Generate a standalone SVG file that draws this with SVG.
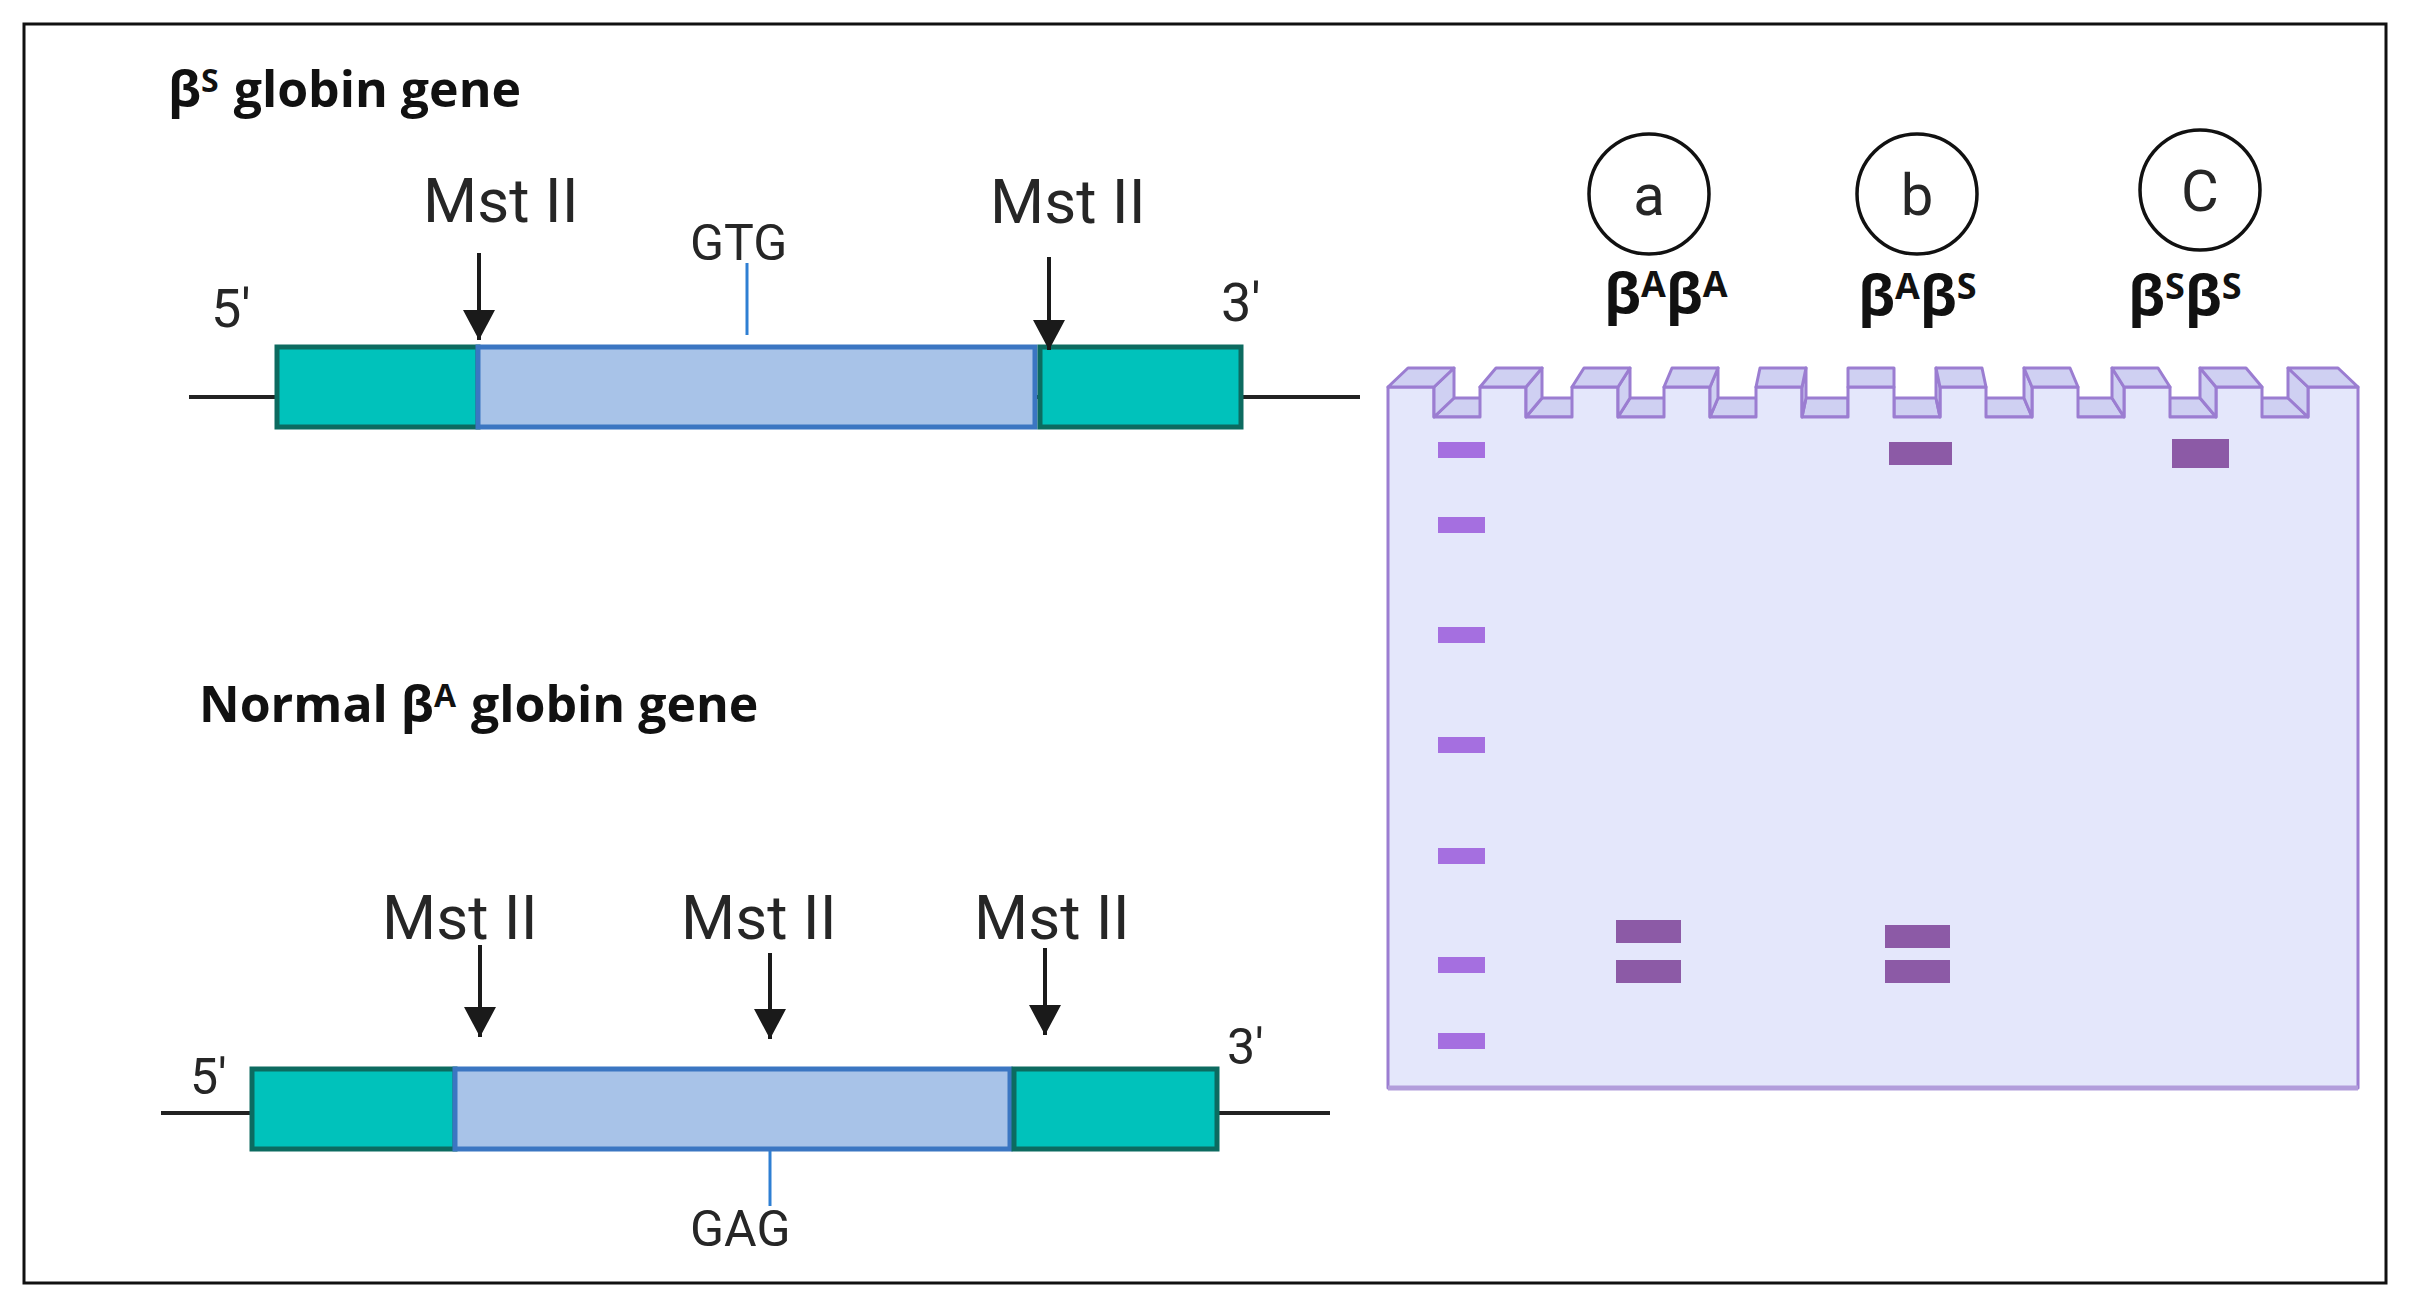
<svg xmlns="http://www.w3.org/2000/svg" width="2409" height="1305" viewBox="0 0 2409 1305">
<defs>
<style>
.title{font-family:"Open Sans","Liberation Sans",sans-serif;font-weight:700;fill:#111;}
.lab{font-family:Roboto,"Liberation Sans",sans-serif;fill:#262626;}
.teal{fill:#00c2bb;stroke:#0c6b60;stroke-width:5;}
.blue{fill:#a8c3e8;stroke:#3b76c2;stroke-width:5;}
.strand{stroke:#222;stroke-width:4;}
.tick{stroke:#2f7fd3;stroke-width:3;}
.arrow{stroke:#1a1a1a;stroke-width:4;fill:none;marker-end:url(#ah);}
.gel{fill:#e4e7fb;stroke:#9b7dd1;stroke-width:3;stroke-linejoin:round;}
.face{fill:#cfd0f2;stroke:#9b7dd1;stroke-width:3;stroke-linejoin:round;}
.ladder{fill:#a56fe0;}
.band{fill:#8c5aa6;}
.ring{fill:none;stroke:#111;stroke-width:3.5;}
</style>
<marker id="ah" markerUnits="userSpaceOnUse" markerWidth="30" markerHeight="32" refX="30" refY="16" orient="auto">
<path d="M0,0 L30,16 L0,32 Z" fill="#1a1a1a"/>
</marker>
</defs>
<rect x="0" y="0" width="2409" height="1305" fill="#fff"/>
<rect id="frame" x="24" y="24" width="2362" height="1259" fill="none" stroke="#111" stroke-width="3"/>

<g id="title-sickle">
<text class="title" x="168" y="107" font-size="50">β<tspan font-size="32" dy="-15">S</tspan><tspan dy="15" dx="2"> globin gene</tspan></text>
</g>

<g id="title-normal">
<text class="title" x="199" y="722" font-size="50">Normal β<tspan font-size="32" dy="-15">A</tspan><tspan dy="15" dx="2"> globin gene</tspan></text>
</g>

<g id="gene-sickle">
<line class="strand" x1="189" y1="397" x2="1360" y2="397"/>
<rect class="teal" x="277" y="347" width="201" height="80"/>
<rect class="blue" x="478" y="347" width="557" height="80"/>
<rect class="teal" x="1040" y="347" width="201" height="80"/>
<line class="tick" x1="747" y1="263" x2="747" y2="335"/>
<text class="lab" x="690" y="260" font-size="50">GTG</text>
<text class="lab" x="211" y="327" font-size="54">5'</text>
<text class="lab" x="1221" y="321" font-size="54">3'</text>
<text class="lab" x="423" y="222" font-size="62">Mst II</text>
<text class="lab" x="990" y="223" font-size="62">Mst II</text>
</g>

<g id="gene-normal">
<line class="strand" x1="161" y1="1113" x2="1330" y2="1113"/>
<rect class="teal" x="252" y="1069" width="203" height="80"/>
<rect class="blue" x="455" y="1069" width="555" height="80"/>
<rect class="teal" x="1014" y="1069" width="203" height="80"/>
<line class="tick" x1="770" y1="1151" x2="770" y2="1206"/>
<text class="lab" x="690" y="1246" font-size="50">GAG</text>
<text class="lab" x="190" y="1094" font-size="50">5'</text>
<text class="lab" x="1227" y="1064" font-size="50">3'</text>
<text class="lab" x="382" y="939" font-size="62">Mst II</text>
<text class="lab" x="681" y="939" font-size="62">Mst II</text>
<text class="lab" x="974" y="939" font-size="62">Mst II</text>
</g>

<g id="connectors">
<line class="arrow" x1="479" y1="253" x2="479" y2="340"/>
<line class="arrow" x1="1049" y1="257" x2="1049" y2="350"/>
<line class="arrow" x1="480" y1="945" x2="480" y2="1037"/>
<line class="arrow" x1="770" y1="953" x2="770" y2="1039"/>
<line class="arrow" x1="1045" y1="948" x2="1045" y2="1035"/>
</g>

<g id="gel">
<g id="wells">
<polygon class="face" points="1434,417 1480,417 1496,398 1454,398"/>
<polygon class="face" points="1526,417 1572,417 1584,398 1542,398"/>
<polygon class="face" points="1618,417 1664,417 1672,398 1630,398"/>
<polygon class="face" points="1710,417 1756,417 1760,398 1718,398"/>
<polygon class="face" points="1802,417 1848,417 1848,398 1806,398"/>
<polygon class="face" points="1894,417 1940,417 1936,398 1894,398"/>
<polygon class="face" points="1986,417 2032,417 2024,398 1982,398"/>
<polygon class="face" points="2078,417 2124,417 2112,398 2070,398"/>
<polygon class="face" points="2170,417 2216,417 2200,398 2158,398"/>
<polygon class="face" points="2262,417 2308,417 2288,398 2246,398"/>
</g>
<polygon class="gel" points="1388,1088 1388,387 1434,387 1434,417 1480,417 1480,387 1526,387 1526,417 1572,417 1572,387 1618,387 1618,417 1664,417 1664,387 1710,387 1710,417 1756,417 1756,387 1802,387 1802,417 1848,417 1848,387 1894,387 1894,417 1940,417 1940,387 1986,387 1986,417 2032,417 2032,387 2078,387 2078,417 2124,417 2124,387 2170,387 2170,417 2216,417 2216,387 2262,387 2262,417 2308,417 2308,387 2358,387 2358,1088"/>
<line x1="1388" y1="1088" x2="2358" y2="1088" stroke="#b29ddb" stroke-width="5"/>
<g id="sides">
<polygon class="face" points="1434,387 1454,368 1454,398 1434,417"/>
<polygon class="face" points="1526,387 1542,368 1542,398 1526,417"/>
<polygon class="face" points="1618,387 1630,368 1630,398 1618,417"/>
<polygon class="face" points="1710,387 1718,368 1718,398 1710,417"/>
<polygon class="face" points="1802,387 1806,368 1806,398 1802,417"/>
<polygon class="face" points="1940,387 1936,368 1936,398 1940,417"/>
<polygon class="face" points="2032,387 2024,368 2024,398 2032,417"/>
<polygon class="face" points="2124,387 2112,368 2112,398 2124,417"/>
<polygon class="face" points="2216,387 2200,368 2200,398 2216,417"/>
<polygon class="face" points="2308,387 2288,368 2288,398 2308,417"/>
</g>
<g id="tops">
<polygon class="face" points="1388,387 1434,387 1454,368 1408,368"/>
<polygon class="face" points="1480,387 1526,387 1542,368 1496,368"/>
<polygon class="face" points="1572,387 1618,387 1630,368 1584,368"/>
<polygon class="face" points="1664,387 1710,387 1718,368 1672,368"/>
<polygon class="face" points="1756,387 1802,387 1806,368 1760,368"/>
<polygon class="face" points="1848,387 1894,387 1894,368 1848,368"/>
<polygon class="face" points="1940,387 1986,387 1982,368 1936,368"/>
<polygon class="face" points="2032,387 2078,387 2070,368 2024,368"/>
<polygon class="face" points="2124,387 2170,387 2158,368 2112,368"/>
<polygon class="face" points="2216,387 2262,387 2246,368 2200,368"/>
<polygon class="face" points="2308,387 2358,387 2338,368 2288,368"/>
</g>
<g id="ladder">
<rect class="ladder" x="1438" y="442" width="47" height="16"/>
<rect class="ladder" x="1438" y="517" width="47" height="16"/>
<rect class="ladder" x="1438" y="627" width="47" height="16"/>
<rect class="ladder" x="1438" y="737" width="47" height="16"/>
<rect class="ladder" x="1438" y="848" width="47" height="16"/>
<rect class="ladder" x="1438" y="957" width="47" height="16"/>
<rect class="ladder" x="1438" y="1033" width="47" height="16"/>
</g>
<g id="lane-a-bands">
<rect class="band" x="1616" y="920" width="65" height="23"/>
<rect class="band" x="1616" y="960" width="65" height="23"/>
</g>
<g id="lane-b-bands">
<rect class="band" x="1889" y="442" width="63" height="23"/>
<rect class="band" x="1885" y="925" width="65" height="23"/>
<rect class="band" x="1885" y="960" width="65" height="23"/>
</g>
<g id="lane-c-bands">
<rect class="band" x="2172" y="439" width="57" height="29"/>
</g>
</g>

<g id="lane-a">
<circle class="ring" cx="1649" cy="194" r="60"/>
<text class="lab" x="1649" y="215" font-size="58" text-anchor="middle" fill="#222">a</text>
<text class="title" x="1604" y="313" font-size="56">β<tspan font-size="36" dy="-16">A</tspan><tspan dy="16">β</tspan><tspan font-size="36" dy="-16">A</tspan></text>
</g>
<g id="lane-b">
<circle class="ring" cx="1917" cy="194" r="60"/>
<text class="lab" x="1917" y="215" font-size="58" text-anchor="middle" fill="#222">b</text>
<text class="title" x="1858" y="315" font-size="56">β<tspan font-size="36" dy="-16">A</tspan><tspan dy="16">β</tspan><tspan font-size="36" dy="-16">S</tspan></text>
</g>
<g id="lane-c">
<circle class="ring" cx="2200" cy="190" r="60"/>
<text class="lab" x="2200" y="211" font-size="58" text-anchor="middle" fill="#222">C</text>
<text class="title" x="2128" y="315" font-size="56">β<tspan font-size="36" dy="-16">S</tspan><tspan dy="16">β</tspan><tspan font-size="36" dy="-16">S</tspan></text>
</g>
</svg>
